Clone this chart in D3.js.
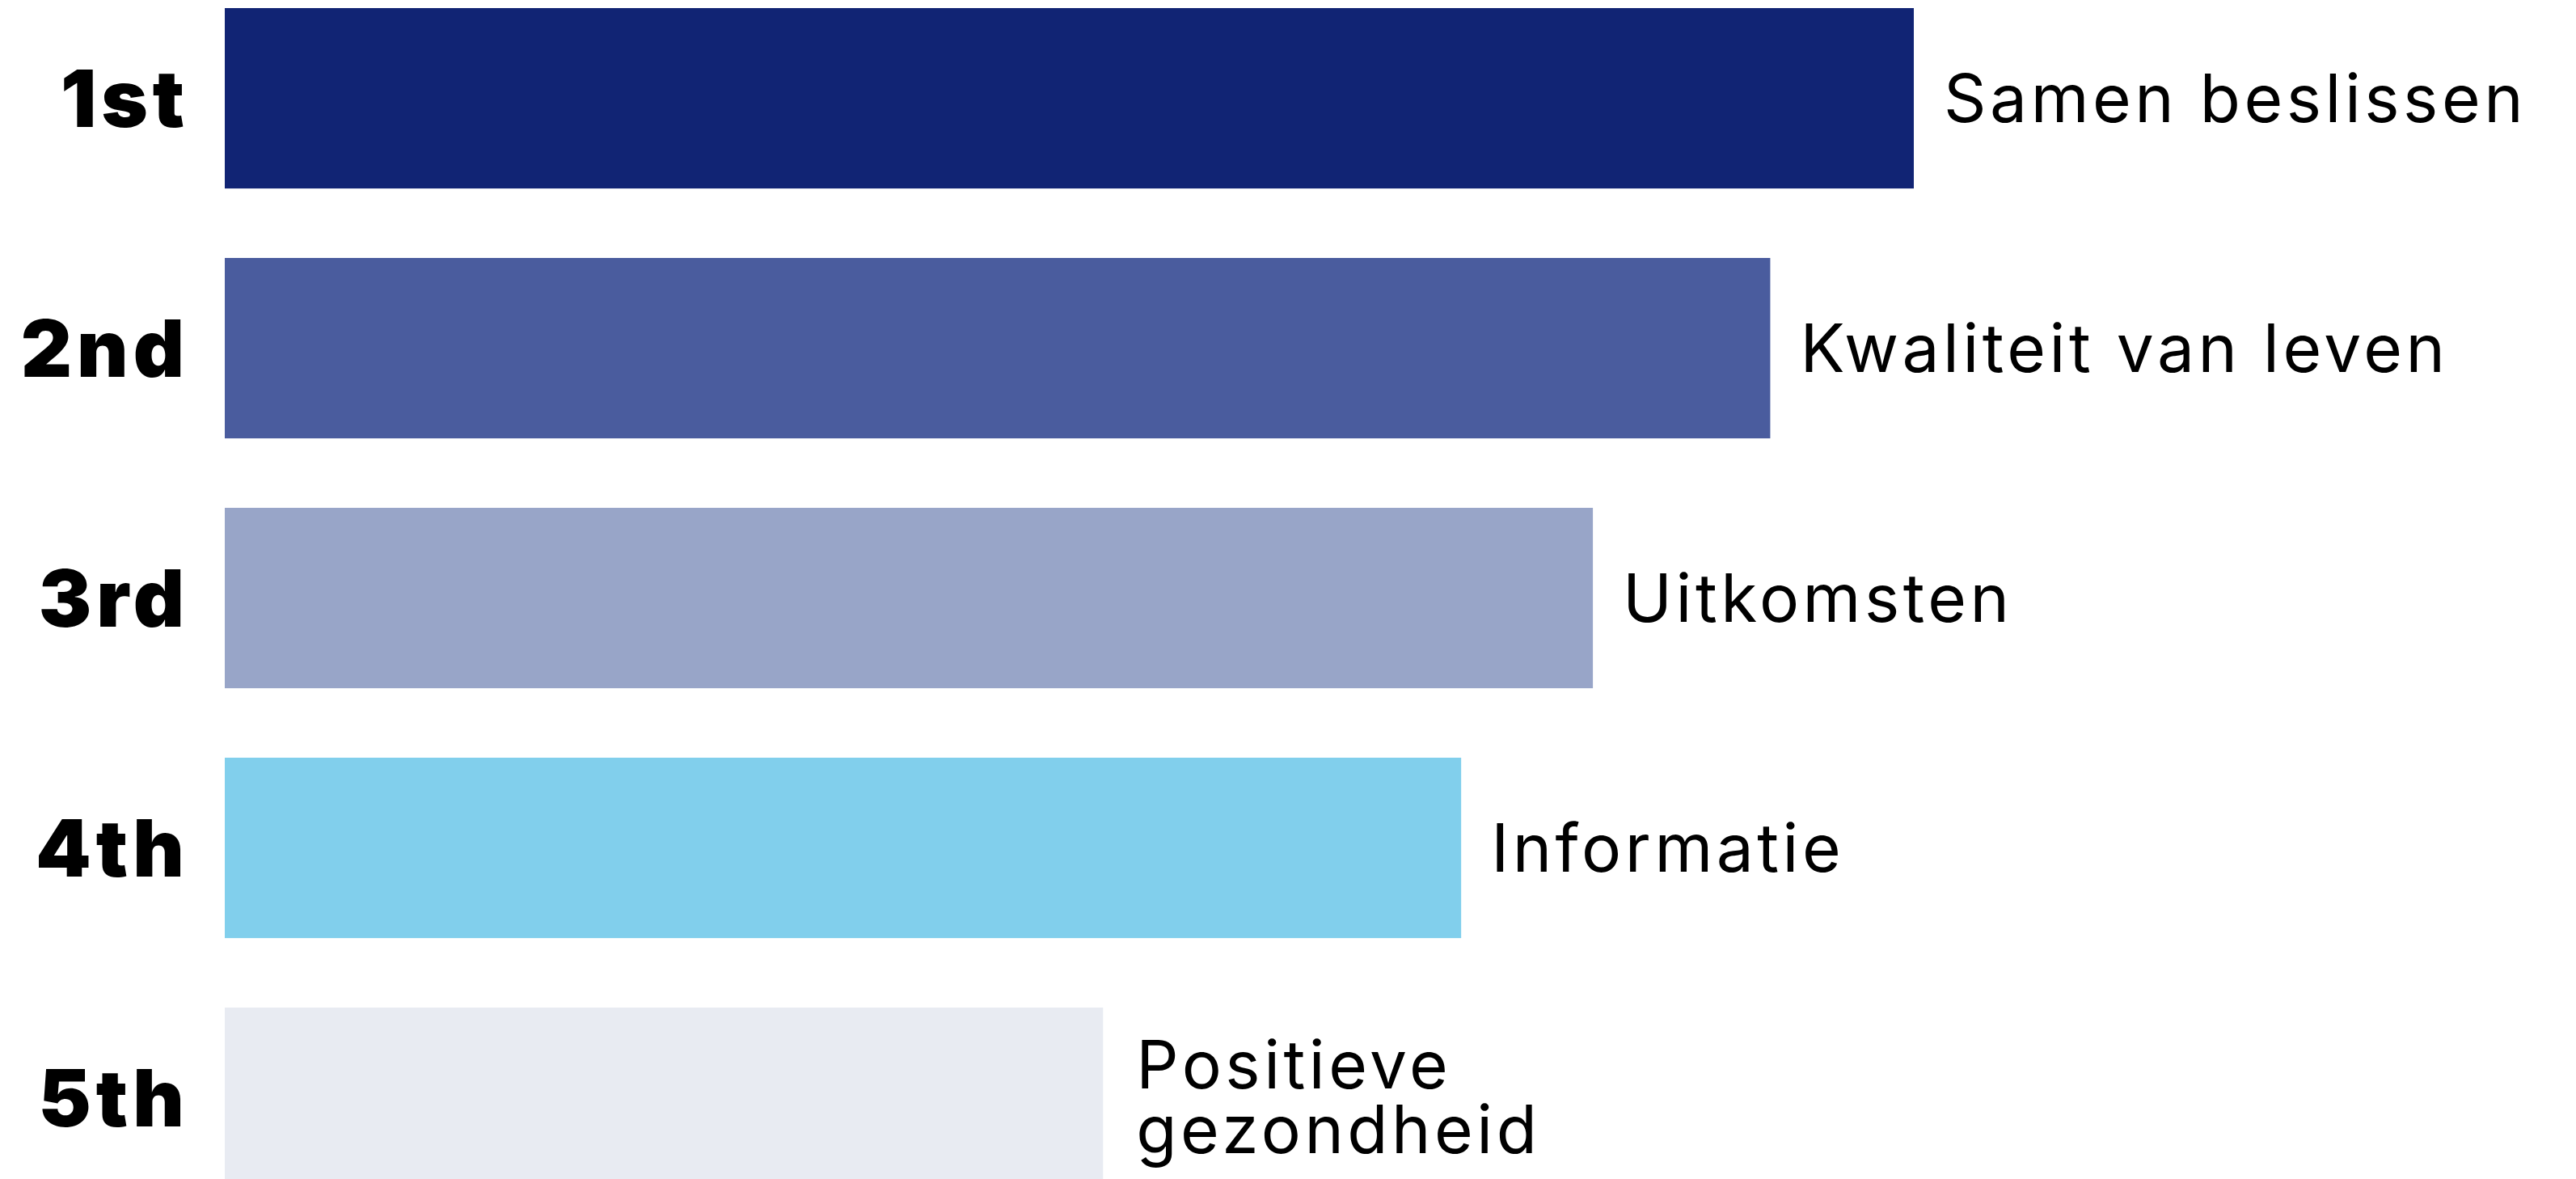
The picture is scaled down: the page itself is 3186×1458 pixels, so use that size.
<!DOCTYPE html>
<html>
<head>
<meta charset="utf-8">
<script src="https://cdn.jsdelivr.net/npm/d3@7"></script>
<style>
  html, body { margin: 0; padding: 0; background: #fff; overflow: hidden; }
  svg { display: block; }
</style>
</head>
<body>
<div id="chart"></div>
<script>
// data (relative lengths, longest = 100)
const ranks = ['1st', '2nd', '3rd', '4th', '5th'];
const topics = ['Samen beslissen', 'Kwaliteit van leven', 'Uitkomsten', 'Informatie', 'Positieve gezondheid'];
const scores = [100, 91.5, 81.0, 73.2, 52.0];
const colors = ['#112474', '#4a5c9e', '#98a5c8', '#81cfec', '#e8ebf2'];

const width = 3186;
const height = 1458;
const margin = { left: 278, top: 10 };
const barSpan = 2089;

const svg = d3.select('#chart')
  .append('svg')
  .attr('width', width)
  .attr('height', height);

const x = d3.scaleLinear()
  .domain([0, 100])
  .range([margin.left, margin.left + barSpan]);

const y = d3.scaleBand()
  .domain(ranks)
  .range([margin.top, margin.top + 309 * (ranks.length - 0.278)])
  .paddingInner(0.278)
  .paddingOuter(0);

const rows = ranks.map((r, i) => ({ rank: r, topic: topics[i], value: scores[i], color: colors[i] }));

svg.append('g')
  .selectAll('rect')
  .data(rows)
  .enter()
  .append('rect')
  .attr('x', x(0))
  .attr('y', d => y(d.rank))
  .attr('width', d => x(d.value) - x(0))
  .attr('height', y.bandwidth())
  .attr('fill', d => d.color);

// rank labels on the left
const yAxis = d3.axisLeft(y).tickSize(0).tickPadding(44);
const axisG = svg.append('g')
  .attr('transform', `translate(${x(0)},0)`)
  .call(yAxis);
axisG.select('.domain').remove();
axisG.selectAll('text')
  .attr('fill', '#000')
  .style('font-family', 'Inter, "Noto Sans", sans-serif')
  .style('font-weight', 900)
  .style('font-size', '98px')
  .style('letter-spacing', '6px')
  .attr('dy', '0.36em');

// topic labels after each bar
const labelSize = 82;
const labels = svg.append('g')
  .selectAll('text')
  .data(rows)
  .enter()
  .append('text')
  .attr('x', d => x(d.value) + 37)
  .attr('y', d => y(d.rank) + y.bandwidth() / 2)
  .attr('fill', '#000')
  .style('font-family', 'Inter, "Noto Sans", sans-serif')
  .style('font-weight', 400)
  .style('font-size', labelSize + 'px')
  .style('letter-spacing', '4.5px');

labels.each(function (d) {
  const t = d3.select(this);
  const words = d.topic.split(' ');
  // the shortest bar carries a two-line label
  if (d.value < 60) {
    const lines = [words[0], words.slice(1).join(' ')];
    lines.forEach((ln, k) => {
      t.append('tspan')
        .attr('x', x(d.value) + 41)
        .attr('dy', k === 0 ? '-0.14em' : '0.97em')
        .text(ln);
    });
  } else {
    t.attr('dy', '0.36em').text(d.topic);
  }
});
</script>
</body>
</html>
